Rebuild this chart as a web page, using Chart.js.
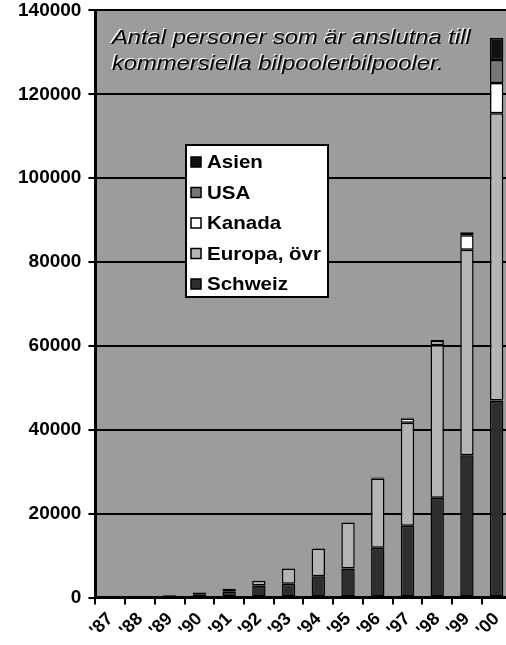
<!DOCTYPE html>
<html>
<head>
<meta charset="utf-8">
<script src="https://cdn.jsdelivr.net/npm/chart.js@4"></script>
<style>
    html, body { margin: 0; padding: 0; background: #fff; overflow: hidden; }
    #wrap { width: 516px; height: 655px; margin-top: -8px; }
</style>
</head>
<body>
<div id="wrap"><canvas id="graphique"></canvas></div>
<script>
// Données
const years = ["'87", "'88", "'89", "'90", "'91", "'92", "'93", "'94", "'95", "'96", "'97", "'98", "'99", "'00"];
const schweiz = [100, 200, 400, 800, 1400, 2900, 3300, 5100, 6900, 11900, 17100, 23800, 33900, 47000];
const europa = [null, 100, 200, 400, 700, 1100, 3600, 6600, 11000, 16500, 24600, 36400, 49000, 68500];
const kanada = [null, null, null, null, null, null, null, null, null, 200, 1000, 1000, 3500, 7200];
const usa = [null, null, null, null, null, null, null, null, null, null, 200, 200, 700, 5500];
const asien = [null, null, null, null, null, null, null, null, null, null, null, null, null, 5200];
const yTicks = [0, 20000, 40000, 60000, 80000, 100000, 120000, 140000];
const titre = ["Antal personer som är anslutna till", "kommersiella bilpoolerbilpooler."];

const police = "'Liberation Sans', Arial, sans-serif";

// fond gris de la zone de tracé
const fondGris = {
    id: "fondGris",
    beforeDraw(chart) {
        const a = chart.chartArea;
        const ctx = chart.ctx;
        ctx.save();
        ctx.fillStyle = "#9c9c9c";
        ctx.fillRect(a.left, a.top, a.right - a.left, a.bottom - a.top);
        ctx.restore();
    }
};

// titre en italique dans le graphique
const titreInterne = {
    id: "titreInterne",
    afterDatasetsDraw(chart) {
        const ctx = chart.ctx;
        ctx.save();
        ctx.font = "italic 21px " + police;
        ctx.textBaseline = "alphabetic";
        for (let i = 0; i < titre.length; i++) {
            const y = 52 + i * 26;
            ctx.save();
            ctx.translate(112, y);
            ctx.scale(1.13, 1);
            ctx.fillStyle = "#ffffff";
            ctx.fillText(titre[i], -1, -1);
            ctx.fillStyle = "#000000";
            ctx.fillText(titre[i], 0, 0);
            ctx.restore();
        }
        ctx.restore();
    }
};

// légende encadrée, dans l'ordre inverse de l'empilement
const legendeBoite = {
    id: "legendeBoite",
    afterDraw(chart) {
        const ctx = chart.ctx;
        const ds = chart.data.datasets.slice().reverse();
        ctx.save();
        ctx.fillStyle = "#ffffff";
        ctx.fillRect(186, 153, 142, 152);
        ctx.strokeStyle = "#000";
        ctx.lineWidth = 2;
        ctx.strokeRect(186, 153, 142, 152);
        ctx.font = "bold 19px " + police;
        ctx.textBaseline = "middle";
        for (let i = 0; i < ds.length; i++) {
            const y = 170 + i * 30.5;
            ctx.fillStyle = ds[i].backgroundColor;
            ctx.fillRect(191, y - 5, 10, 10);
            ctx.lineWidth = 1.5;
            ctx.strokeRect(191, y - 5, 10, 10);
            ctx.fillStyle = "#000";
            ctx.save();
            ctx.translate(207, y + 1);
            ctx.scale(1.08, 1);
            ctx.fillText(ds[i].label, 0, 0);
            ctx.restore();
        }
        ctx.restore();
    }
};

const data = {
    labels: years,
    datasets: [
        { label: "Schweiz", data: schweiz, backgroundColor: "#2e2e2e" },
        { label: "Europa, övr", data: europa, backgroundColor: "#b4b4b4" },
        { label: "Kanada", data: kanada, backgroundColor: "#ffffff" },
        { label: "USA", data: usa, backgroundColor: "#777777" },
        { label: "Asien", data: asien, backgroundColor: "#111111" },
    ].map(d => Object.assign(d, {
        borderColor: "#000",
        borderWidth: 1.5,
        borderSkipped: false,
        barPercentage: 0.45,
        categoryPercentage: 1,
    })),
};

const config = {
    type: "bar",
    data: data,
    plugins: [fondGris, titreInterne, legendeBoite],
    options: {
        responsive: true,
        maintainAspectRatio: false,
        animation: false,
        layout: { padding: { left: 11, right: 2, top: 0, bottom: 2 } },
        plugins: { legend: { display: false }, tooltip: { enabled: false } },
        scales: {
            x: {
                stacked: true,
                grid: { offset: true, drawOnChartArea: false, color: "#000", lineWidth: 2, tickLength: 7 },
                border: { color: "#000", width: 3 },
                ticks: {
                    color: "#000",
                    font: { family: police, size: 18, weight: "bold" },
                    minRotation: 45,
                    maxRotation: 45,
                    padding: 4,
                    autoSkip: false,
                },
            },
            y: {
                stacked: true,
                min: 0,
                max: 140000,
                afterBuildTicks: axis => { axis.ticks = yTicks.map(v => ({ value: v })); },
                grid: { color: "#000", lineWidth: 2, tickLength: 7 },
                border: { color: "#000", width: 3 },
                ticks: {
                    color: "#000",
                    font: { family: police, size: 19, weight: "bold" },
                    padding: 7,
                    callback: v => String(v),
                },
            },
        },
    },
};

new Chart(document.querySelector("#graphique"), config);
</script>
</body>
</html>
